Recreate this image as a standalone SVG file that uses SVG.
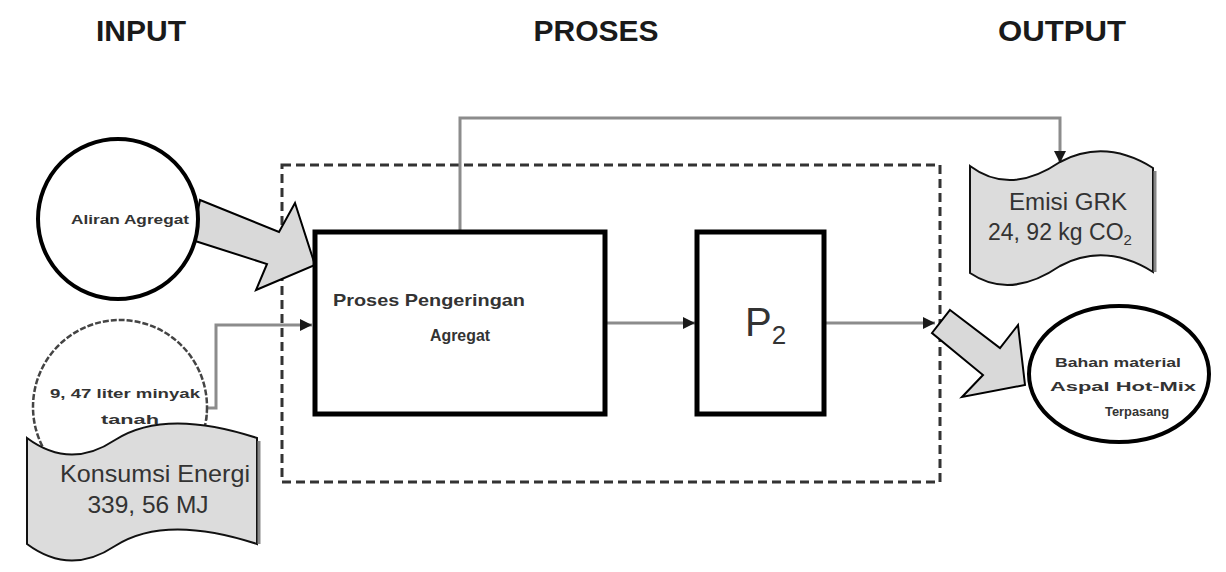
<svg xmlns="http://www.w3.org/2000/svg" width="1226" height="572" viewBox="0 0 1226 572">
<style>
.title{font-family:"Liberation Sans",Arial,sans-serif;font-weight:bold;font-size:29px;fill:#1a1a1a;text-anchor:middle}
.lbl{font-family:"Liberation Sans",Arial,sans-serif;fill:#333}
.small{font-family:"Liberation Sans",Arial,sans-serif;font-weight:bold;font-size:13px;fill:#333;text-anchor:middle}
.box{fill:#fff;stroke:#000;stroke-width:5}
.wave{fill:#dcdcdc;stroke:#111;stroke-width:2}
.shadow{fill:none;stroke:#888;stroke-width:3}
.blk{fill:#d9d9d9;stroke:#000;stroke-width:2;stroke-linejoin:miter}
.conn{fill:none;stroke:#8c8c8c;stroke-width:3}
</style>
<defs>
<marker id="ah" viewBox="0 0 10 10" refX="10" refY="5" markerWidth="12" markerHeight="12" markerUnits="userSpaceOnUse" orient="auto">
<path d="M0,0 L10,5 L0,10 z" fill="#1a1a1a"/>
</marker>
</defs>
<rect width="1226" height="572" fill="#fff"/>
<g id="titles">
<text class="title" x="141" y="41" textLength="90" lengthAdjust="spacingAndGlyphs">INPUT</text>
<text class="title" x="596" y="41" textLength="125" lengthAdjust="spacingAndGlyphs">PROSES</text>
<text class="title" x="1062" y="41" textLength="128" lengthAdjust="spacingAndGlyphs">OUTPUT</text>
</g>
<g id="boundary">
<rect x="282" y="165" width="658" height="317" fill="none" stroke="#333" stroke-width="3" stroke-dasharray="9 5"/>
</g>
<g id="connectors">
<path class="conn" d="M460,232 V118 H1060 V163" marker-end="url(#ah)"/>
<path class="conn" d="M206,420 V408 H216 V325 H312" marker-end="url(#ah)"/>
<path class="conn" d="M607,323 H695" marker-end="url(#ah)"/>
<path class="conn" d="M826,323 H935" marker-end="url(#ah)"/>
<polygon class="blk" points="200,200 279,232 295,203 315,265 256,290 267,264 192,240"/>
<polygon class="blk" points="950,310 1000,348 1018,325 1025,385 962,397 983,375 932,333"/>
</g>
<g id="node-agregat">
<circle cx="118" cy="219" r="80" fill="#fff" stroke="#000" stroke-width="4"/>
<text class="small" x="130" y="224" textLength="118" lengthAdjust="spacingAndGlyphs">Aliran Agregat</text>
</g>
<g id="node-minyak">
<circle cx="120" cy="407" r="87" fill="#fff" stroke="#444" stroke-width="2.5" stroke-dasharray="6 2"/>
<text class="small" x="125" y="398" textLength="150" lengthAdjust="spacingAndGlyphs">9, 47 liter minyak</text>
<text class="small" x="130" y="424" textLength="58" lengthAdjust="spacingAndGlyphs">tanah</text>
</g>
<g id="node-konsumsi">
<path class="wave" d="M27,438 Q70,470 115,440 Q165,408 257,438 L257,544 Q165,514 115,546 Q70,576 27,544 Z"/>
<path class="shadow" d="M259,441 V544"/>
<text class="lbl" x="155" y="482" font-size="24" text-anchor="middle" textLength="190" lengthAdjust="spacingAndGlyphs">Konsumsi Energi</text>
<text class="lbl" x="148" y="513" font-size="24" text-anchor="middle" textLength="121" lengthAdjust="spacingAndGlyphs">339, 56 MJ</text>
</g>
<g id="node-proses">
<rect class="box" x="315" y="232" width="290" height="182"/>
<text class="lbl" x="429" y="306" font-size="17" font-weight="bold" text-anchor="middle" textLength="192" lengthAdjust="spacingAndGlyphs">Proses Pengeringan</text>
<text class="lbl" x="460" y="341" font-size="17" font-weight="bold" text-anchor="middle" textLength="60" lengthAdjust="spacingAndGlyphs">Agregat</text>
</g>
<g id="node-p2">
<rect class="box" x="697" y="232" width="127" height="182"/>
<text class="lbl" x="745" y="336" font-size="40">P<tspan font-size="26" dy="8">2</tspan></text>
</g>
<g id="node-emisi">
<path class="wave" d="M970,166 Q1010,196 1060,162 Q1105,138 1153,168 L1153,272 Q1105,242 1060,266 Q1010,300 970,273 Z"/>
<path class="shadow" d="M1155,171 V272"/>
<text class="lbl" x="1068" y="210" font-size="23" text-anchor="middle" textLength="118" lengthAdjust="spacingAndGlyphs">Emisi GRK</text>
<text class="lbl" x="988" y="240" font-size="23">24, 92 kg CO<tspan font-size="15" dy="5">2</tspan></text>
</g>
<g id="node-output">
<ellipse cx="1119" cy="374" rx="90" ry="68" fill="#fff" stroke="#000" stroke-width="4"/>
<text class="small" x="1118" y="367" textLength="126" lengthAdjust="spacingAndGlyphs">Bahan material</text>
<text class="small" x="1123" y="391" textLength="146" lengthAdjust="spacingAndGlyphs">Aspal Hot-Mix</text>
<text class="small" x="1137" y="416" textLength="64" lengthAdjust="spacingAndGlyphs">Terpasang</text>
</g>
</svg>
